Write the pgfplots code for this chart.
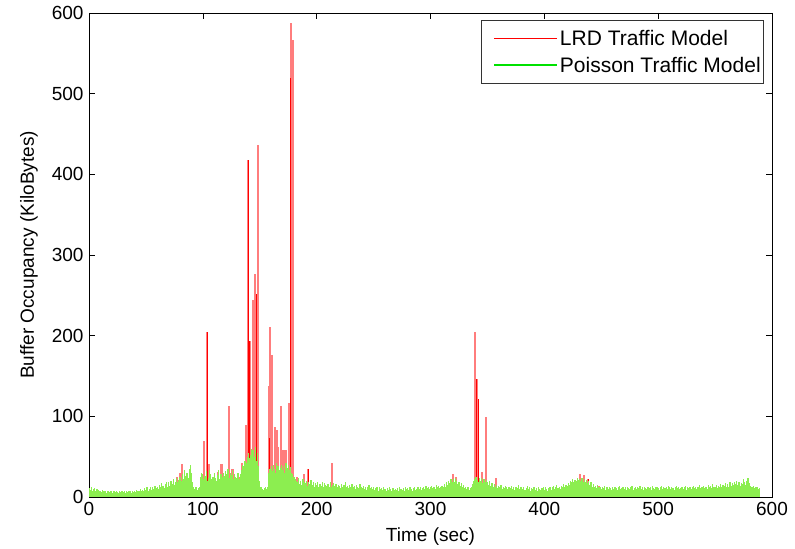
\documentclass[border=0pt]{standalone}
\usepackage{fontspec}
\setmainfont{Liberation Sans}
\usepackage{pgfplots}
\usepackage{pgfplotstable}
\pgfplotsset{compat=1.18}

\definecolor{lrdred}{RGB}{255,0,0}
\definecolor{lrdfill}{RGB}{255,125,125}
\definecolor{poisline}{RGB}{0,225,0}
\definecolor{poisfill}{RGB}{140,238,80}

% Poisson traffic model: buffer occupancy, one sample per second (t = 0..589)
\pgfplotstableread[row sep=\\]{
y\\
11\\ 9\\ 12\\ 8\\ 10\\ 11\\ 7\\ 10\\ 9\\ 8\\
8\\ 6\\ 9\\ 7\\ 8\\ 5\\ 7\\ 8\\ 6\\ 7\\
7\\ 5\\ 8\\ 6\\ 7\\ 6\\ 5\\ 8\\ 6\\ 7\\
6\\ 8\\ 5\\ 7\\ 6\\ 8\\ 7\\ 5\\ 7\\ 6\\
8\\ 6\\ 9\\ 7\\ 8\\ 10\\ 7\\ 9\\ 8\\ 11\\
9\\ 12\\ 8\\ 10\\ 13\\ 9\\ 12\\ 10\\ 14\\ 11\\
13\\ 10\\ 15\\ 12\\ 17\\ 14\\ 11\\ 16\\ 19\\ 13\\
18\\ 14\\ 20\\ 16\\ 22\\ 15\\ 19\\ 24\\ 18\\ 21\\
25\\ 20\\ 28\\ 22\\ 33\\ 26\\ 30\\ 24\\ 35\\ 40\\
30\\ 18\\ 12\\ 10\\ 13\\ 9\\ 11\\ 12\\ 25\\ 30\\
28\\ 22\\ 26\\ 32\\ 20\\ 24\\ 34\\ 28\\ 22\\ 25\\
30\\ 24\\ 20\\ 27\\ 33\\ 22\\ 28\\ 25\\ 30\\ 26\\
32\\ 28\\ 35\\ 24\\ 30\\ 27\\ 33\\ 22\\ 28\\ 25\\
24\\ 30\\ 22\\ 28\\ 34\\ 40\\ 38\\ 45\\ 42\\ 50\\
55\\ 48\\ 52\\ 60\\ 58\\ 50\\ 62\\ 45\\ 55\\ 38\\
20\\ 12\\ 10\\ 9\\ 11\\ 13\\ 10\\ 12\\ 30\\ 35\\
38\\ 32\\ 40\\ 35\\ 30\\ 42\\ 38\\ 33\\ 36\\ 40\\
34\\ 38\\ 30\\ 42\\ 36\\ 40\\ 33\\ 37\\ 30\\ 28\\
25\\ 22\\ 20\\ 18\\ 24\\ 16\\ 20\\ 15\\ 22\\ 18\\
17\\ 20\\ 14\\ 18\\ 16\\ 21\\ 15\\ 19\\ 13\\ 17\\
15\\ 18\\ 13\\ 16\\ 14\\ 19\\ 12\\ 17\\ 15\\ 14\\
16\\ 13\\ 18\\ 12\\ 15\\ 17\\ 14\\ 16\\ 12\\ 15\\
14\\ 11\\ 16\\ 13\\ 15\\ 18\\ 12\\ 14\\ 11\\ 15\\
13\\ 16\\ 12\\ 14\\ 10\\ 15\\ 13\\ 11\\ 16\\ 12\\
11\\ 14\\ 10\\ 13\\ 9\\ 12\\ 15\\ 11\\ 13\\ 10\\
12\\ 9\\ 11\\ 13\\ 8\\ 12\\ 10\\ 11\\ 9\\ 12\\
10\\ 8\\ 11\\ 9\\ 12\\ 10\\ 8\\ 11\\ 9\\ 10\\
9\\ 11\\ 8\\ 12\\ 10\\ 9\\ 11\\ 8\\ 13\\ 10\\
11\\ 9\\ 12\\ 10\\ 8\\ 11\\ 13\\ 9\\ 10\\ 12\\
10\\ 12\\ 9\\ 11\\ 13\\ 10\\ 14\\ 11\\ 12\\ 10\\
12\\ 14\\ 11\\ 13\\ 10\\ 15\\ 12\\ 14\\ 11\\ 13\\
14\\ 12\\ 16\\ 13\\ 18\\ 15\\ 20\\ 17\\ 22\\ 19\\
22\\ 18\\ 24\\ 20\\ 16\\ 19\\ 14\\ 17\\ 12\\ 15\\
11\\ 13\\ 10\\ 12\\ 9\\ 11\\ 13\\ 16\\ 20\\ 22\\
25\\ 21\\ 18\\ 23\\ 20\\ 24\\ 17\\ 22\\ 19\\ 21\\
18\\ 15\\ 20\\ 14\\ 17\\ 12\\ 16\\ 13\\ 15\\ 11\\
14\\ 12\\ 15\\ 10\\ 13\\ 11\\ 14\\ 12\\ 10\\ 13\\
11\\ 14\\ 10\\ 12\\ 9\\ 13\\ 11\\ 15\\ 10\\ 12\\
13\\ 10\\ 12\\ 9\\ 11\\ 14\\ 10\\ 12\\ 8\\ 11\\
10\\ 13\\ 9\\ 11\\ 8\\ 12\\ 10\\ 9\\ 11\\ 13\\
9\\ 12\\ 10\\ 8\\ 11\\ 13\\ 9\\ 12\\ 14\\ 10\\
12\\ 15\\ 11\\ 13\\ 10\\ 14\\ 12\\ 16\\ 13\\ 15\\
14\\ 17\\ 15\\ 20\\ 18\\ 22\\ 19\\ 21\\ 20\\ 23\\
21\\ 22\\ 20\\ 23\\ 19\\ 22\\ 18\\ 21\\ 17\\ 20\\
15\\ 18\\ 13\\ 16\\ 12\\ 14\\ 11\\ 15\\ 12\\ 13\\
10\\ 13\\ 11\\ 14\\ 9\\ 12\\ 10\\ 13\\ 11\\ 9\\
12\\ 10\\ 13\\ 11\\ 9\\ 12\\ 14\\ 10\\ 11\\ 13\\
10\\ 12\\ 9\\ 13\\ 11\\ 10\\ 12\\ 14\\ 9\\ 11\\
13\\ 10\\ 12\\ 11\\ 14\\ 10\\ 12\\ 9\\ 13\\ 11\\
10\\ 13\\ 11\\ 12\\ 9\\ 14\\ 11\\ 10\\ 12\\ 13\\
11\\ 9\\ 12\\ 14\\ 10\\ 13\\ 11\\ 12\\ 10\\ 14\\
12\\ 10\\ 13\\ 11\\ 9\\ 12\\ 14\\ 11\\ 13\\ 10\\
11\\ 13\\ 10\\ 12\\ 14\\ 9\\ 12\\ 11\\ 13\\ 10\\
12\\ 14\\ 11\\ 13\\ 10\\ 12\\ 15\\ 11\\ 13\\ 12\\
14\\ 11\\ 13\\ 10\\ 15\\ 12\\ 14\\ 11\\ 16\\ 13\\
12\\ 15\\ 11\\ 14\\ 13\\ 16\\ 12\\ 15\\ 14\\ 17\\
13\\ 16\\ 12\\ 18\\ 14\\ 17\\ 15\\ 19\\ 16\\ 20\\
15\\ 18\\ 14\\ 17\\ 16\\ 22\\ 18\\ 15\\ 20\\ 24\\
17\\ 14\\ 13\\ 12\\ 14\\ 11\\ 13\\ 12\\ 10\\ 11\\
}\poisson

\begin{document}
\begin{tikzpicture}
\begin{axis}[
    width=683bp, height=484bp, scale only axis,
    xmin=0, xmax=600, ymin=0, ymax=600,
    xtick={0,100,...,600}, ytick={0,100,...,600},
    tick align=inside, xtick pos=both, ytick pos=both,
    major tick length=6bp,
    axis line style={line width=0.6bp},
    every tick/.style={black, line width=0.6bp},
    /pgf/number format/assume math mode=true,
    tick label style={font=\fontsize{19bp}{22bp}\selectfont},
    xticklabel style={yshift=-2bp},
    yticklabel style={xshift=-2bp},
    label style={font=\fontsize{19bp}{22bp}\selectfont},
    xlabel={Time (sec)},
    xlabel style={at={(axis description cs:0.5,0)}, anchor=base, yshift=-45bp},
    ylabel={Buffer Occupancy (KiloBytes)},
    ylabel style={at={(axis description cs:0,0.5)}, anchor=base, yshift=55bp},
    legend image code/.code={\path (-11bp,0bp); \draw[#1] (0bp,0bp) -- (63bp,0bp);},
    legend style={at={(1,1)}, anchor=north east, xshift=-8bp, yshift=-7bp,
        draw=black!80, line width=0.6bp,
        font=\fontsize{21bp}{24bp}\selectfont,
        cells={anchor=west}, inner xsep=1bp, inner ysep=8bp, row sep=6bp},
]
\addlegendimage{color=lrdred, line width=0.9bp}
\addlegendentry{LRD Traffic Model}
\addlegendimage{color=poisline, line width=1.8bp}
\addlegendentry{Poisson Traffic Model}

% LRD traffic model: spikes above the Poisson level
\addplot[ycomb, color=lrdfill, line width=2.2bp, forget plot]
coordinates {
(77.6,25) (80,30) (82,41) (101.2,70) (103.8,204) (105.5,41) (113.4,31)
(116.4,41) (120.4,28) (123.3,113) (126,35) (131.6,25) (134.5,42)
(138.4,89) (140,418) (141.2,193) (143.8,244) (145.6,276) (147.3,252)
(148.2,436) (157.8,137) (159.3,211) (160.5,176) (163.4,87) (164.8,83)
(166.2,62) (168.7,113) (170,58) (172.7,58) (176,116) (177.2,588)
(178.7,566) (179.5,46) (183,25) (189,29) (192.7,35) (213.2,42)
(319.6,28) (322.5,25) (339.2,204) (340.7,146) (341.8,122) (345,31)
(348.9,99) (357.6,23) (429,19) (431.5,28) (435,27) (438.5,22) (448,14)
};
\addplot[ycomb, color=lrdred, line width=0.8bp, forget plot]
coordinates {
(103.8,204) (113.4,31) (140,418) (141.2,193) (147.3,252) (158.2,73)
(177.2,520) (192.7,35) (340.7,146) (341.8,122) (438.5,22)
};
% Poisson traffic model
\addplot[ycomb, color=poisfill, line width=1.25bp, forget plot]
table[x expr=\coordindex, y=y] {\poisson};
\end{axis}
\pgfresetboundingbox
\path[use as bounding box] ([xshift=-89bp,yshift=-52bp]current axis.south west)
    rectangle ([xshift=23bp,yshift=13bp]current axis.north east);
\end{tikzpicture}
\end{document}
